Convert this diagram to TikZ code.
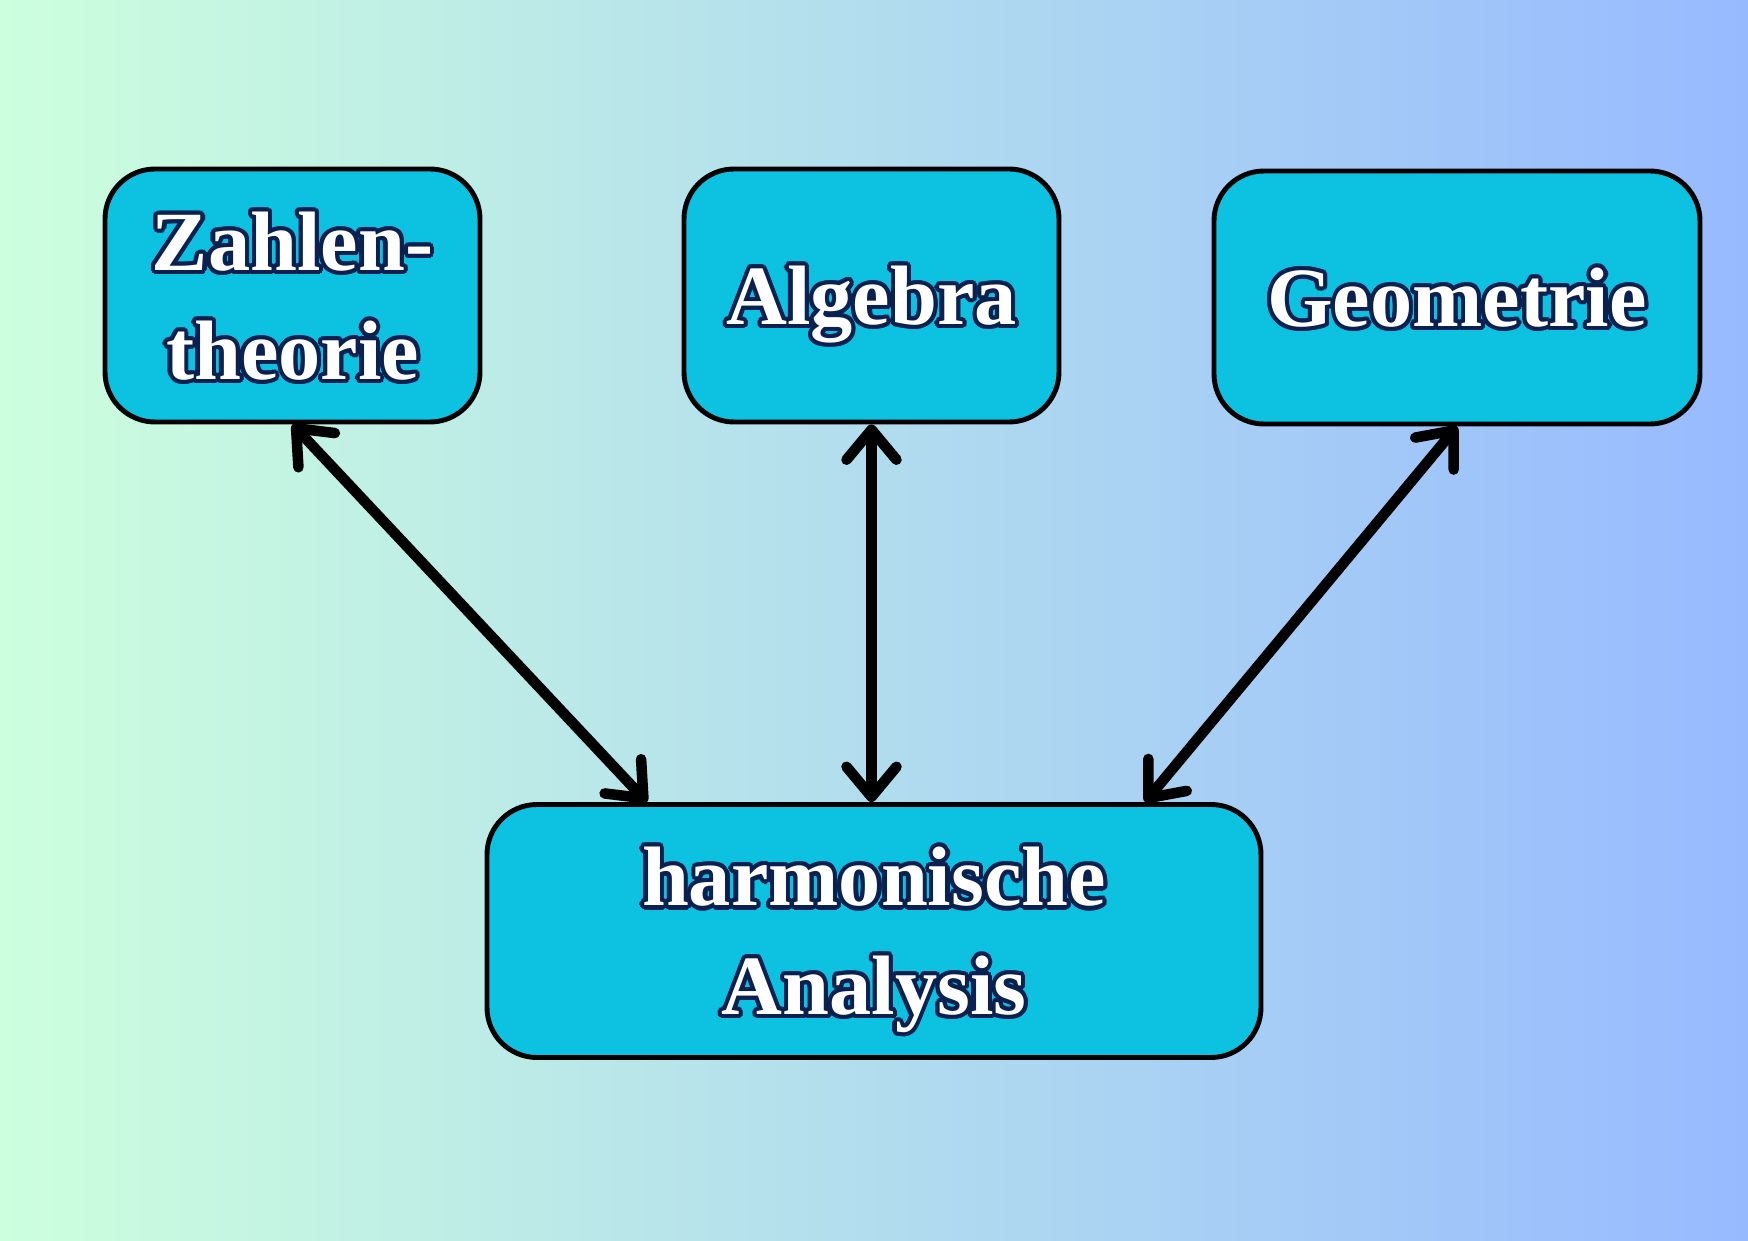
\documentclass[tikz,border=0pt]{standalone}
\usepackage{fontspec}
\setmainfont{Liberation Serif}
\usepackage{contour}
\usetikzlibrary{arrows.meta,calc}

\definecolor{bgleft}{HTML}{CCFFDD}
\definecolor{bgright}{HTML}{97BAFF}
\definecolor{boxfill}{HTML}{0DC1E0}
\definecolor{rim}{HTML}{0A2050}
\contourlength{1.2pt}
\newcommand{\lbl}[1]{\contour{rim}{#1}}

\begin{document}
\begin{tikzpicture}[
    field/.style={draw=black, line width=1.4pt, fill=boxfill, rounded corners=0.5cm,
      minimum height=2.53cm, align=center, text=white, text depth=0pt,
      font=\fontsize{24}{31}\selectfont\bfseries},
    link/.style={line width=3pt, line cap=round,
      {Straight Barb[length=0.3cm,width=0.5cm,round]}-{Straight Barb[length=0.3cm,width=0.5cm,round]}}]
  \shade[left color=bgleft, right color=bgright] (0,0) rectangle (17.48,12.40);
  \useasboundingbox (0,0) rectangle (17.48,12.40);
  \node[field, minimum width=3.75cm] (zt) at (2.925,9.445) {\lbl{Zahlen-}\\\lbl{theorie}};
  \node[field, minimum width=3.75cm] (alg) at (8.715,9.445) {\lbl{Algebra}};
  \node[field, minimum width=4.86cm] (geo) at (14.57,9.425) {\lbl{Geometrie}};
  \node[field, minimum width=7.74cm] (ha) at (8.74,3.09) {\lbl{harmonische}\\\lbl{Analysis}};
  \draw[link] (zt.south) -- ([xshift=-2.27cm]ha.north);
  \draw[link] (alg.south) -- (alg.south |- ha.north);
  \draw[link] (geo.south) -- ([xshift=2.71cm]ha.north);
\end{tikzpicture}
\end{document}
